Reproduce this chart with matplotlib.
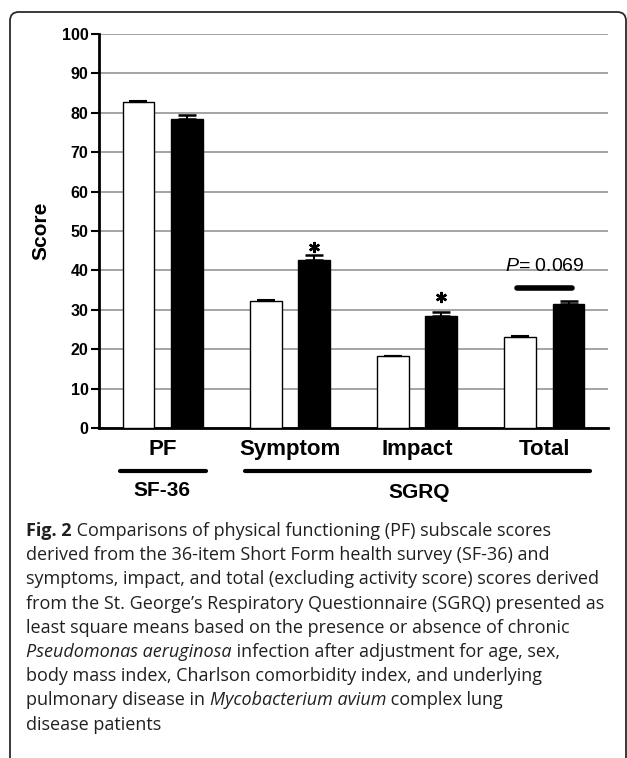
import numpy as np
import matplotlib.pyplot as plt
from matplotlib.patches import FancyBboxPatch

plt.rcParams['mathtext.fontset'] = 'custom'
plt.rcParams['mathtext.rm'] = 'Liberation Sans'
plt.rcParams['mathtext.it'] = 'Liberation Sans:italic'

categories = ['PF', 'Symptom', 'Impact', 'Total']
absent = [82.8, 32.3, 18.2, 23.2]
absent_err = [0.2, 0.2, 0.2, 0.2]
present = [78.5, 42.6, 28.4, 31.4]
present_err = [0.9, 1.2, 1.0, 0.9]
yticks = list(range(0, 101, 10))
star_groups = [1, 2]
star_y = [45.9, 33.2]
p_text = r'$\it{P}$= 0.069'

caption_lines = [
    [('Fig. 2', 'bold'), (' Comparisons of physical functioning (PF) subscale scores', 'normal')],
    [('derived from the 36-item Short Form health survey (SF-36) and', 'normal')],
    [('symptoms, impact, and total (excluding activity score) scores derived', 'normal')],
    [('from the St. George\u2019s Respiratory Questionnaire (SGRQ) presented as', 'normal')],
    [('least square means based on the presence or absence of chronic', 'normal')],
    [('Pseudomonas aeruginosa', 'italic'), (' infection after adjustment for age, sex,', 'normal')],
    [('body mass index, Charlson comorbidity index, and underlying', 'normal')],
    [('pulmonary disease in ', 'normal'), ('Mycobacterium avium', 'italic'), (' complex lung', 'normal')],
    [('disease patients', 'normal')],
]

W, H = 627, 758
fig = plt.figure(figsize=(W / 100, H / 100), dpi=100)

# rounded frame (right / bottom run off the picture)
frame = FancyBboxPatch((10 / W, -0.05), (626 - 10) / W, 1 - 12 / H + 0.05,
                       boxstyle='round,pad=0,rounding_size=0.014',
                       transform=fig.transFigure, fill=False,
                       ec='#2a2a2a', lw=1.3, mutation_aspect=W / H)
fig.patches.append(frame)

ax = fig.add_axes([99 / W, 1 - 428 / H, (608 - 99) / W, (428 - 34) / H])

x = np.arange(len(categories))
w = 0.25
off = 0.19
ax.bar(x - off, absent, w, color='white', edgecolor='black', lw=1, zorder=3)
ax.bar(x + off, present, w, color='black', edgecolor='black', lw=1, zorder=3)
ax.errorbar(x - off, absent, yerr=[np.zeros(4), absent_err], fmt='none',
            ecolor='black', capsize=6.3, elinewidth=1.2, capthick=1.5, zorder=4)
ax.errorbar(x + off, present, yerr=[np.zeros(4), present_err], fmt='none',
            ecolor='black', capsize=6.3, elinewidth=1.5, capthick=1.8, zorder=4)

ax.set_xlim(-0.5, 3.5)
ax.set_ylim(0, 100)
ax.set_yticks(yticks)
ax.yaxis.grid(True, color='#8c8c8c', lw=1.1)
ax.set_axisbelow(True)
for s in ['top', 'right']:
    ax.spines[s].set_visible(False)
ax.spines['left'].set_linewidth(2)
ax.spines['bottom'].set_linewidth(2)
ax.tick_params(axis='y', length=6, width=1.5, labelsize=11.5, pad=1.5)
for t in ax.get_yticklabels():
    t.set_fontweight('bold')
    t.set_family('Liberation Sans')
ax.set_xticks(x)
ax.set_xticklabels(categories, fontsize=16, fontweight='bold', family='Liberation Sans')
ax.tick_params(axis='x', length=0, pad=8)
ax.set_ylabel('Score', fontsize=15, fontweight='bold', family='Liberation Sans', labelpad=8)

# significance marks
ax.plot(x[star_groups] + off, star_y, ls='none', marker=(6, 2, 0), ms=8, mew=1.7,
        color='black', zorder=5)
ax.plot([x[3] - 0.215, x[3] + 0.215], [35.5, 35.5], color='black', lw=4,
        solid_capstyle='round', zorder=5)
ax.text(x[3], 41.1, p_text, ha='center', va='center', fontsize=14,
        family='Liberation Sans', zorder=5)

# group brackets below the axis
fig.add_artist(plt.Line2D([120 / W, 206 / W], [1 - 471 / H] * 2, color='black',
                          lw=3, solid_capstyle='round'))
fig.add_artist(plt.Line2D([245 / W, 590 / W], [1 - 471 / H] * 2, color='black',
                          lw=3, solid_capstyle='round'))
fig.text(162 / W, 1 - 490 / H, 'SF-36', ha='center', va='center', fontsize=15,
         fontweight='bold', family='Liberation Sans')
fig.text(419 / W, 1 - 493 / H, 'SGRQ', ha='center', va='center', fontsize=15,
         fontweight='bold', family='Liberation Sans')

# caption, drawn piece by piece so bold / italic runs sit next to each other
renderer = fig.canvas.get_renderer()
cf = 'Open Sans'
cs = 13.0
y0 = 1 - 531 / H
step = 24.2 / H
for i, segs in enumerate(caption_lines):
    xpos = 26 / W
    for txt, style in segs:
        t = fig.text(xpos, y0 - i * step, txt, fontsize=cs, family=cf, va='center',
                     color='#231f20',
                     fontweight='bold' if style == 'bold' else 'normal',
                     fontstyle='italic' if style == 'italic' else 'normal')
        xpos = t.get_window_extent(renderer).x1 / W

fig.savefig('out.png', dpi=100)
